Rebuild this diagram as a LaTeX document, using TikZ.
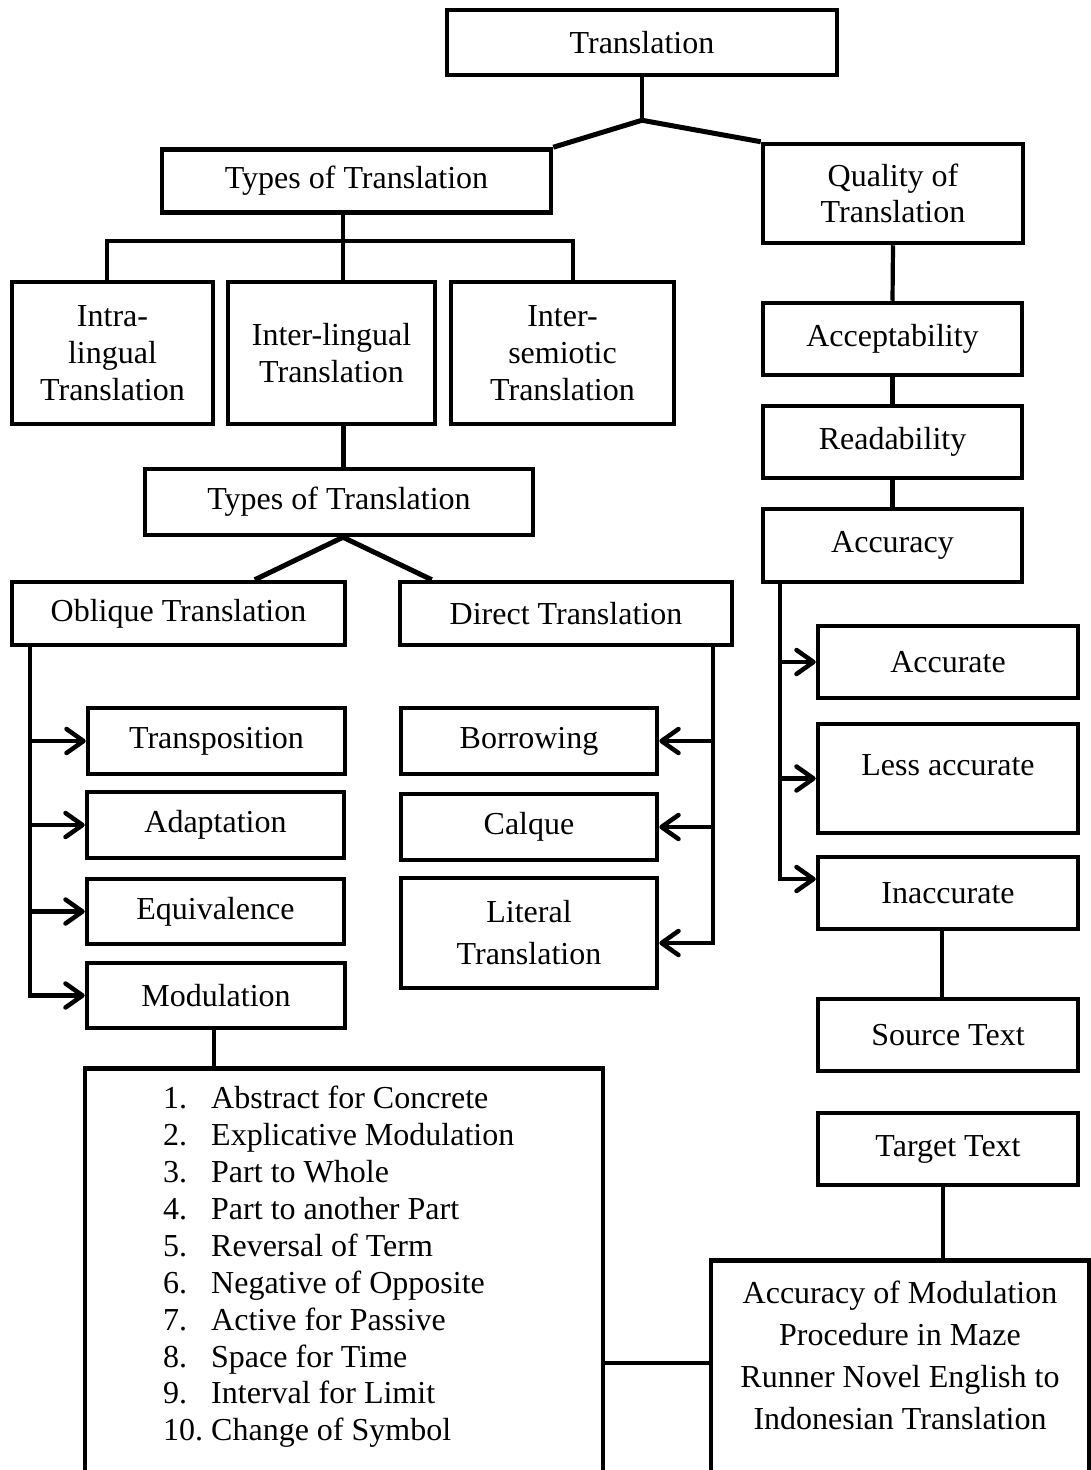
\documentclass[tikz,border=0pt]{standalone}
\usepackage{fontspec}
\setmainfont{Liberation Serif}
\usetikzlibrary{arrows.meta,calc}
\begin{document}
\begin{tikzpicture}[x=1pt,y=-1pt,
  box/.style={draw, line width=4.5pt, inner sep=0pt, align=center, font=\fontsize{32}{37}\selectfont},
  txt/.style={inner sep=0pt, font=\fontsize{32}{37}\selectfont},
  conn/.style={line width=4.2pt},
  diag/.style={line width=5pt, line join=round},
  arr/.style={line width=4.2pt, -{Straight Barb[length=17pt,width=24pt,line width=4.5pt,round]}},
]
\useasboundingbox (0,0) rectangle (1091,1470);
\clip (0,0) rectangle (1091,1470);

% top level
\node[box, minimum width=390pt, minimum height=65pt] (tr) at (642,42.5) {Translation};
\node[box, minimum width=389pt, minimum height=63pt] (types1) at (356.5,181) {Types of Translation};
\node[box, minimum width=260pt, minimum height=99pt, font=\fontsize{32}{36}\selectfont] (quality) at (893,193.5) {Quality of\\Translation};

% second row
\node[box, minimum width=201pt, minimum height=142pt] (intra) at (112.5,353) {Intra-\\lingual\\Translation};
\node[box, minimum width=207pt, minimum height=142pt] (inter) at (331.5,353) {Inter-lingual\\Translation};
\node[box, minimum width=223pt, minimum height=142pt] (semio) at (562.5,353) {Inter-\\semiotic\\Translation};

\node[box, minimum width=388pt, minimum height=66pt] (types2) at (339,502) {Types of Translation};
\node[box, minimum width=333pt, minimum height=63pt] (oblique) at (178.5,613.5) {Oblique Translation};
\node[box, minimum width=332pt, minimum height=63pt] (direct) at (566,613.5) {Direct Translation};

% quality chain
\node[box, minimum width=259pt, minimum height=72pt] (accept) at (892.5,339) {Acceptability};
\node[box, minimum width=259pt, minimum height=72pt] (read) at (892.5,442) {Readability};
\node[box, minimum width=259pt, minimum height=73pt] (accuracy) at (892.5,545.5) {Accuracy};
\node[box, minimum width=260pt, minimum height=72pt] (accurate) at (948,662) {Accurate};
\node[box, minimum width=260pt, minimum height=109pt] (less) at (948,778.5) {Less accurate\\[-10pt]\mbox{}};
\node[box, minimum width=260pt, minimum height=72pt] (inacc) at (948,893) {Inaccurate};
\node[box, minimum width=260pt, minimum height=72pt] (source) at (948,1035) {Source Text};
\node[box, minimum width=260pt, minimum height=72pt] (target) at (948,1149) {Target Text};

% oblique children
\node[box, minimum width=257pt, minimum height=66pt] (transp) at (216.5,741) {Transposition};
\node[box, minimum width=257pt, minimum height=66pt] (adapt) at (215.5,825) {Adaptation};
\node[box, minimum width=257pt, minimum height=65pt] (equiv) at (215.5,911.5) {Equivalence};
\node[box, minimum width=258pt, minimum height=65pt] (modul) at (216,995.5) {Modulation};

% direct children
\node[box, minimum width=256pt, minimum height=66pt] (borrow) at (529,741) {Borrowing};
\node[box, minimum width=256pt, minimum height=66pt] (calque) at (529,827) {Calque};
\node[box, minimum width=256pt, minimum height=110pt, font=\fontsize{32}{42}\selectfont] (literal) at (529,933) {Literal\\Translation};

% bottom boxes (cut by the page edge)
\node[box, minimum width=518pt, minimum height=420pt, anchor=north] (mlist) at (344,1066) {};
\node[txt, align=left, anchor=west, font=\fontsize{32}{36.9}\selectfont] (ltxt) at (163,1267) {%
\makebox[48pt][l]{1.}Abstract for Concrete\\
\makebox[48pt][l]{2.}Explicative Modulation\\
\makebox[48pt][l]{3.}Part to Whole\\
\makebox[48pt][l]{4.}Part to another Part\\
\makebox[48pt][l]{5.}Reversal of Term\\
\makebox[48pt][l]{6.}Negative of Opposite\\
\makebox[48pt][l]{7.}Active for Passive\\
\makebox[48pt][l]{8.}Space for Time\\
\makebox[48pt][l]{9.}Interval for Limit\\
\makebox[48pt][l]{10.}Change of Symbol};

\node[box, minimum width=378pt, minimum height=240pt, anchor=north] (fin) at (900,1258) {};
\node[txt, align=center, font=\fontsize{32}{42}\selectfont] (fintxt) at (900,1355) {Accuracy of Modulation\\Procedure in Maze\\Runner Novel English to\\Indonesian Translation};

% connectors: top
\draw[conn] (tr.south) -- ++(0,43) coordinate (j1);
\draw[diag] (types1.north east) -- (j1) -- (quality.north west);

% types1 to three kinds
\coordinate (t1b) at ($(types1.south)+(-13.5,0)$);
\draw[conn] (t1b) -- (t1b |- inter.north);
\draw[conn] ($(intra.north)+(-5.5,0)$) -- ++(0,-39) -| ($(semio.north)+(10.5,0)$);

% inter to types2
\coordinate (ib) at ($(inter.south)+(12,0)$);
\draw[conn] (ib) -- (ib |- types2.north);

% types2 to oblique / direct
\coordinate (t2b) at ($(types2.south)+(4,0)$);
\draw[diag] ($(oblique.north west)+(245,0)$) -- (t2b) -- ($(direct.north west)+(34,0)$);

% oblique branch
\coordinate (ob) at ($(oblique.south west)+(20,0)$);
\draw[arr] (ob) |- (modul.west);
\draw[arr] (ob |- transp.west) -- (transp.west);
\draw[arr] (ob |- adapt.west) -- (adapt.west);
\draw[arr] (ob |- equiv.west) -- (equiv.west);

% direct branch
\coordinate (db) at ($(direct.south east)+(-21,0)$);
\coordinate (le) at ($(literal.east)+(0,10)$);
\draw[arr] (db) |- (le);
\draw[arr] (db |- borrow.east) -- (borrow.east);
\draw[arr] (db |- calque.east) -- (calque.east);

% quality chain
\draw[conn] (quality.south) -- (accept.north);
\draw[conn] (accept.south) -- (read.north);
\draw[conn] (read.south) -- (accuracy.north);

% accuracy branch
\coordinate (ab) at ($(accuracy.south west)+(19,0)$);
\coordinate (ie) at ($(inacc.west)+(0,-14)$);
\draw[arr] (ab) |- (ie);
\draw[arr] (ab |- accurate.west) -- (accurate.west);
\draw[arr] (ab |- less.west) -- (less.west);

% lower links
\coordinate (is) at ($(inacc.south)+(-6,0)$);
\draw[conn] (is) -- (is |- source.north);
\coordinate (ts) at ($(target.south)+(-5,0)$);
\draw[conn] (ts) -- (ts |- fin.north);
\coordinate (ms) at ($(modul.south)+(-2,0)$);
\draw[conn] (ms) -- (ms |- mlist.north);
\coordinate (lr) at ($(mlist.north east)+(0,297)$);
\draw[conn] (lr) -- (lr -| fin.west);
\end{tikzpicture}
\end{document}
